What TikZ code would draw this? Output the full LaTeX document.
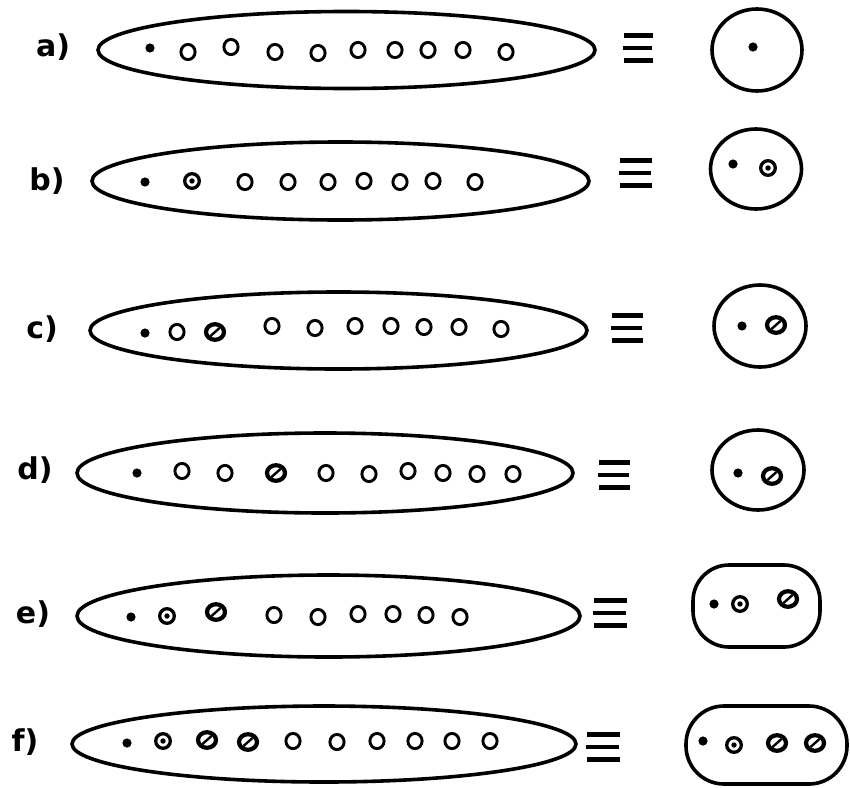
\documentclass[tikz,border=0pt]{standalone}
\usepackage{fontspec}
\setmainfont{DejaVu Sans}
\begin{document}
\begin{tikzpicture}[x=1pt,y=-1pt,
  outer/.style={line width=3.6pt},
  eqbar/.style={line width=4.6pt},
  lbl/.style={font=\fontsize{30}{32}\selectfont\bfseries, inner sep=0pt},
  emp/.style={line width=2.9pt},
  rng/.style={line width=3.3pt},
  hat/.style={line width=4.2pt}]
\useasboundingbox (0,0) rectangle (850,787);
% helpers
\def\Dot(#1,#2){\fill (#1,#2) circle (4.6);}
\def\Emp(#1,#2){\draw[emp] (#1,#2) ellipse (7.1 and 7.6);}
\def\Rng(#1,#2){\draw[rng] (#1,#2) circle (7.3); \fill (#1,#2) circle (2.7);}
\def\Hat(#1,#2){\draw[hat] (#1,#2) ellipse (9 and 7.8); \draw[line width=2.4pt, shift={(#1,#2)}] (-4.5,4) -- (4.5,-4);}
\def\Eq(#1,#2,#3){\draw[eqbar] (#1,#3-12.5)--(#2,#3-12.5) (#1-1,#3)--(#2-1,#3) (#1,#3+12.5)--(#2,#3+12.5);}

% ---------- a ----------
\node[lbl] (la) at (53,47) {a)};
\draw[outer] (346.5,50) ellipse (248.5 and 38.5);
\Dot(150,48)
\foreach \x/\y in {188/52,231/47,275/52,318/53,358/50,395/50,428/50,463/50,506/52}{\Emp(\x,\y)}
\Eq(624,653,48)
\draw[outer] (757,50) ellipse (45 and 41);
\Dot(753,47)

% ---------- b ----------
\node[lbl] (lb) at (47,181) {b)};
\draw[outer] (340.5,181) ellipse (248.5 and 39);
\Dot(145,182)
\Rng(192,181)
\foreach \x/\y in {245/182,288/182,328/182,364/181,400/182,433/181,475/182}{\Emp(\x,\y)}
\Eq(620,652,173)
\draw[outer] (756,169) ellipse (45.5 and 40);
\Dot(733,164)
\Rng(768,168)

% ---------- c ----------
\node[lbl] (lc) at (42,329) {c)};
\draw[outer] (338.5,330.5) ellipse (248.5 and 38.5);
\Dot(145,333)
\Emp(177,332)
\Hat(215,332)
\foreach \x/\y in {272/326,315/328,355/326,391/326,424/327,459/327,501/329}{\Emp(\x,\y)}
\Eq(612,643,328)
\draw[outer] (760,326) ellipse (46 and 41);
\Dot(742,326)
\Hat(776,325)

% ---------- d ----------
\node[lbl] (ld) at (35,470) {d)};
\draw[outer] (325,473) ellipse (248 and 40);
\Dot(137,473)
\Emp(182,471)
\Emp(225,473)
\Hat(276,473)
\foreach \x/\y in {326/473,369/474,408/471,443/473,477/474,513/474}{\Emp(\x,\y)}
\Eq(599,630,475)
\draw[outer] (758,470) ellipse (46 and 40);
\Dot(738,473)
\Hat(772,476)

% ---------- e ----------
\node[lbl] (le) at (33,614) {e)};
\draw[outer] (328.5,616) ellipse (251.5 and 41);
\Dot(131,617)
\Rng(167,616)
\Hat(216,612)
\foreach \x/\y in {274/615,318/617,358/614,393/614,426/615,460/617}{\Emp(\x,\y)}
\Eq(594,627,613)
\draw[outer, rounded corners=36pt] (693,565) rectangle (820,647);
\Dot(714,604)
\Rng(740,604)
\Hat(788,599)

% ---------- f ----------
\node[lbl] (lf) at (25,742) {f)};
\draw[outer] (324,744) ellipse (252 and 38);
\Dot(127,743)
\Rng(163,741)
\Hat(207,740)
\Hat(248,742)
\foreach \x/\y in {293/741,337/742,377/741,415/741,452/741,490/741}{\Emp(\x,\y)}
\Eq(587,620,747)
\draw[outer, rounded corners=38pt] (686,706) rectangle (847,784);
\Dot(703,741)
\Rng(734,745)
\Hat(777,743)
\Hat(815,743)
\end{tikzpicture}
\end{document}
